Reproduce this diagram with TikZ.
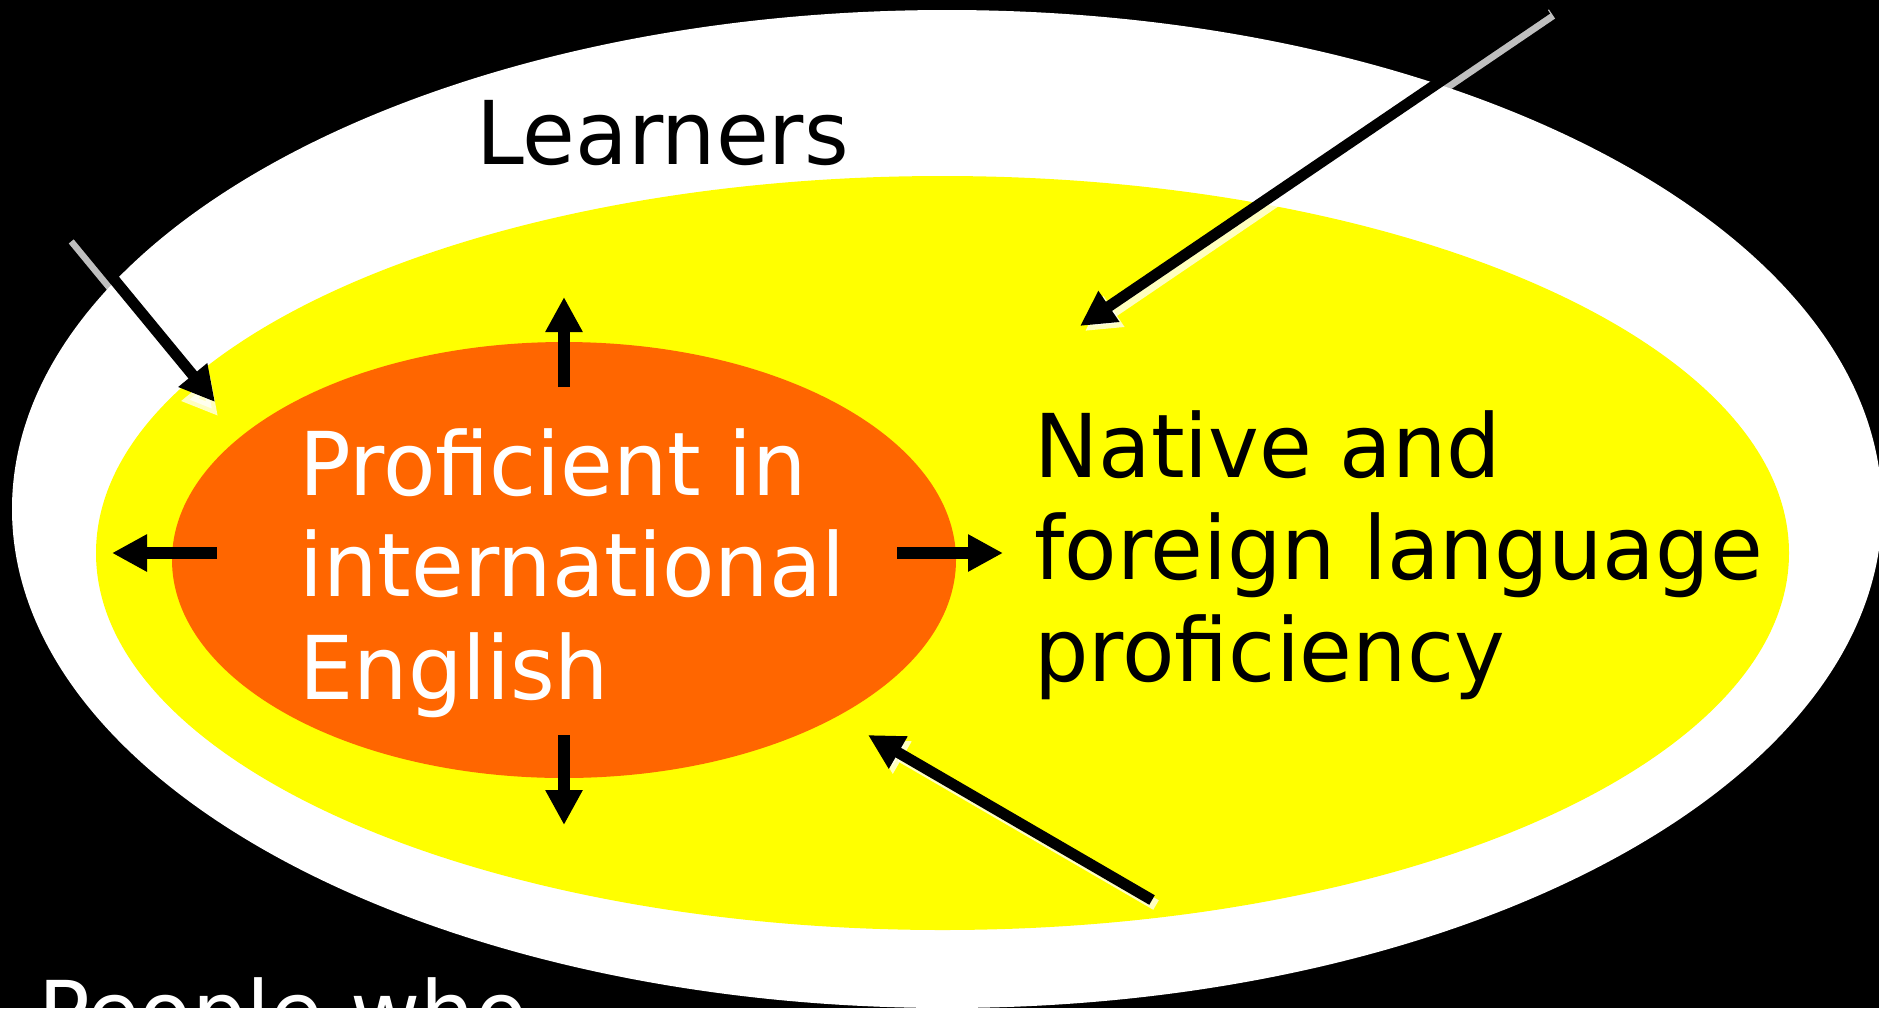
\documentclass[tikz,border=0pt]{standalone}
\usepackage{fontspec}
\setmainfont[FakeStretch=0.975]{DejaVu Sans}
\usetikzlibrary{arrows.meta}
\definecolor{ringyellow}{RGB}{255,255,0}
\definecolor{coreorange}{RGB}{255,102,0}

\begin{document}
\begin{tikzpicture}[x=0.5pt,y=-0.5pt,
  txt/.style={anchor=base west, inner sep=0pt, font=\fontsize{44}{51}\selectfont},
  bigarrow/.style={line width=5.5pt, -{Triangle[length=17.5pt,width=17.5pt]}},
  shadowarrow/.style={bigarrow, draw=white, opacity=0.75},
  axisarrow/.style={line width=6pt, -{Triangle[length=17.5pt,width=17.5pt]}}
]
\useasboundingbox (0,0) rectangle (1879,1008);
\fill[black] (0,0) rectangle (1879,1008);
\clip (0,0) rectangle (1879,1008);

% nested groups
\fill[white] (947,509) ellipse [x radius=467.5pt, y radius=249.5pt];
\fill[ringyellow] (942.5,553) ellipse [x radius=423.25pt, y radius=188.5pt];
\fill[coreorange] (564,560) ellipse [x radius=196pt, y radius=109pt];

% labels
\node[txt, text=black] (learners) at (476,164) {Learners};
\node[txt, text=white] (prof1) at (299,495) {Proficient in};
\node[txt, text=white] (prof2) at (299,596) {international};
\node[txt, text=white] (prof3) at (299,699) {English};
\node[txt, text=black] (native1) at (1034,477) {Native and};
\node[txt, text=black] (native2) at (1034,579) {foreign language};
\node[txt, text=black] (native3) at (1034,681) {proficiency};
\node[txt, text=white] (people) at (38,1044) {People who};

% arrow end points
\coordinate (a1s) at (70,226);   \coordinate (a1e) at (215,402);
\coordinate (a2s) at (1547,9);   \coordinate (a2e) at (1080,326);
\coordinate (a3s) at (1152,900); \coordinate (a3e) at (868,735);

\coordinate (lefts) at (217,553);  \coordinate (lefte) at (112,553);
\coordinate (rights) at (897,553); \coordinate (righte) at (1003,553);
\coordinate (ups) at (564,387);    \coordinate (upe) at (564,297);
\coordinate (downs) at (564,735);  \coordinate (downe) at (564,825);

% diagonal arrows with their soft shadows
\draw[shadowarrow] ([shift={(3,14)}]a1s) -- ([shift={(3,14)}]a1e);
\draw[bigarrow] (a1s) -- (a1e);
\draw[shadowarrow] ([shift={(5,5)}]a2s) -- ([shift={(5,5)}]a2e);
\draw[bigarrow] (a2s) -- (a2e);
\draw[shadowarrow] ([shift={(4,5)}]a3s) -- ([shift={(4,5)}]a3e);
\draw[bigarrow] (a3s) -- (a3e);

% arrows pointing out of the core
\draw[axisarrow] (lefts) -- (lefte);
\draw[axisarrow] (rights) -- (righte);
\draw[axisarrow] (ups) -- (upe);
\draw[axisarrow] (downs) -- (downe);
\end{tikzpicture}
\end{document}
